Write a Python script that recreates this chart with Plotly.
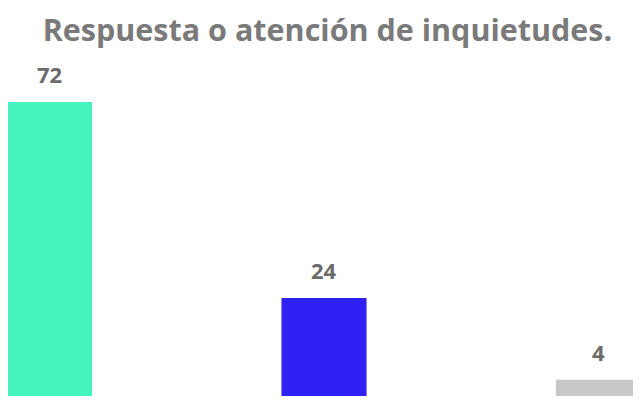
import plotly.graph_objects as go

categories = ["A", "B", "C"]
values = [72, 24, 4]
colors = ["#45F4BE", "#2F20F4", "#C8C8C8"]
title_text = "Respuesta o atención de inquietudes."

FONT = "Open Sans, Lato, sans-serif"

fig = go.Figure()
fig.add_trace(go.Bar(
    x=list(range(len(categories))), y=values,
    marker=dict(color=colors, line=dict(width=0)),
    width=0.31, hoverinfo="skip", showlegend=False,
))
for i, v in enumerate(values):
    fig.add_annotation(
        x=i, y=v, text=f"<b>{v}</b>", showarrow=False,
        yanchor="bottom", yshift=11,
        font=dict(family=FONT, size=22, color="#6b6b6b"),
    )

fig.update_layout(
    width=633, height=397,
    margin=dict(l=0, r=0, t=52, b=9),
    paper_bgcolor="white", plot_bgcolor="white",
    title=dict(
        text=f"<b>{title_text}</b>", x=0.5047, xanchor="center",
        y=0.944, yanchor="middle",
        font=dict(family=FONT, size=30.5, color="#7a7a7a"),
    ),
    xaxis=dict(range=[-0.1512, 2.1548], visible=False, fixedrange=True),
    yaxis=dict(range=[0, 82.3], visible=False, fixedrange=True),
)
fig.write_html("out.html")
